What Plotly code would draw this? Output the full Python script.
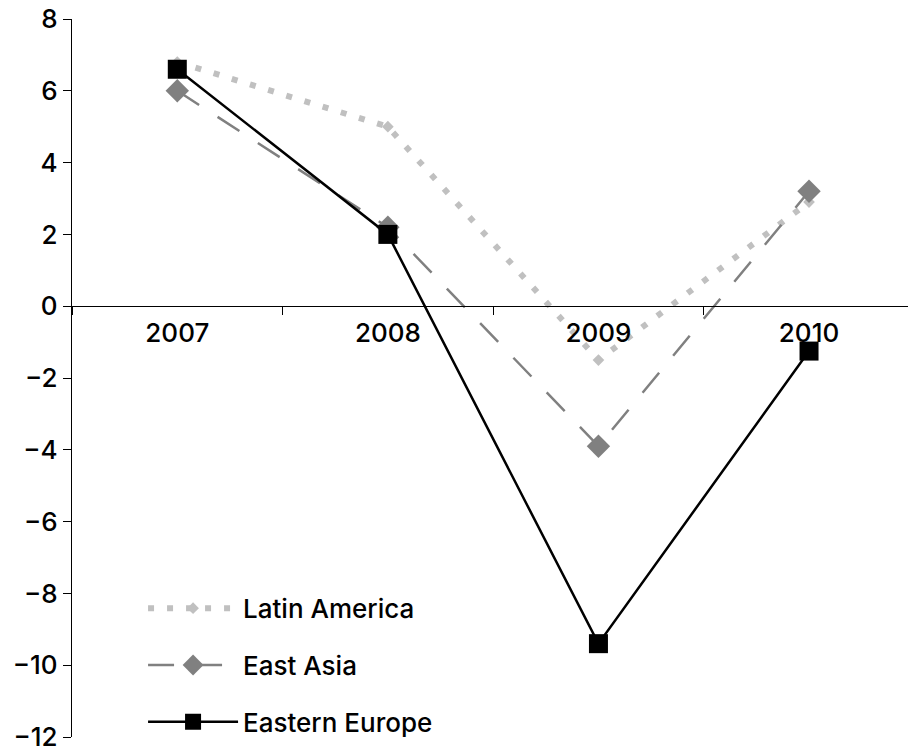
import plotly.graph_objects as go

years = ["2007", "2008", "2009", "2010"]
latin_america = [6.8, 5.0, -1.5, 2.9]
east_asia = [6.0, 2.2, -3.9, 3.2]
eastern_europe = [6.6, 2.0, -9.4, -1.25]
y_ticks = [8, 6, 4, 2, 0, -2, -4, -6, -8, -10, -12]
y_tick_text = ["8", "6", "4", "2", "0", "\u22122", "\u22124", "\u22126", "\u22128", "\u221210", "\u221212"]

FONT = "Inter"
FS = 26

fig = go.Figure()
fig.add_trace(go.Scatter(
    x=years, y=latin_america, name="Latin America", mode="lines+markers",
    line=dict(color="#c0c0c0", width=6, dash="6px,13px"),
    marker=dict(symbol="diamond", size=9, color="#c0c0c0"),
    legendgroup="a",
))
fig.add_trace(go.Scatter(
    x=years, y=east_asia, name="East Asia", mode="lines+markers",
    line=dict(color="#808080", width=2.5, dash="26px,22px"),
    marker=dict(symbol="diamond", size=18, color="#808080"),
    legendgroup="b",
))
fig.add_trace(go.Scatter(
    x=years, y=eastern_europe, name="Eastern Europe", mode="lines+markers",
    line=dict(color="#000000", width=2.5),
    marker=dict(symbol="square", size=19, color="#000000"),
    legendgroup="c",
))

fig.update_layout(
    width=908, height=749,
    margin=dict(l=72, r=0, t=19, b=12, autoexpand=False),
    paper_bgcolor="white", plot_bgcolor="white",
    font=dict(family=FONT, size=FS, color="black", weight=500),
    showlegend=True,
    legend=dict(
        x=0.085, y=0.212, xanchor="left", yanchor="top",
        bgcolor="rgba(0,0,0,0)", itemwidth=90,
        tracegroupgap=20, font=dict(size=FS, weight=500),
    ),
    xaxis=dict(
        type="category", range=[-0.5, 3.47],
        anchor="free", position=0.6, automargin=False,
        showline=True, linecolor="black", linewidth=1.3,
        ticks="outside", ticklen=8, tickcolor="black", tickwidth=1.3,
        tickson="boundaries", showgrid=False, zeroline=False,
        ticklabelstandoff=3,
        tickfont=dict(size=FS, weight=500),
    ),
    yaxis=dict(
        range=[-12, 8], tickvals=y_ticks, ticktext=y_tick_text,
        automargin=False, ticklabeloverflow="allow",
        showline=True, linecolor="black", linewidth=1.3,
        ticks="outside", ticklen=8, tickcolor="black", tickwidth=1.3,
        showgrid=False, zeroline=False, tickfont=dict(size=FS, weight=500),
    ),
)

fig.write_html("out.html")
